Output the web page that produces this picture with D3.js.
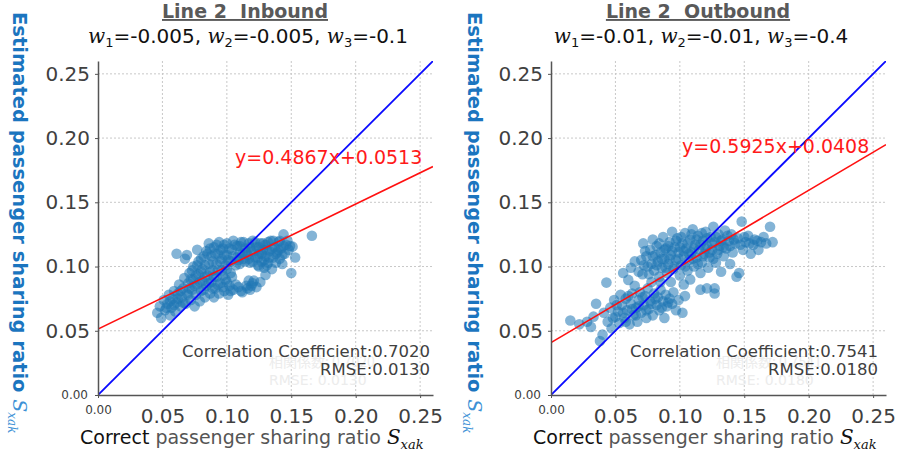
<!DOCTYPE html>
<html>
<head>
<meta charset="utf-8">
<script src="https://cdn.jsdelivr.net/npm/d3@7"></script>
<style>
  body { margin: 0; background: #fff; }
  text { font-family: "DejaVu Sans", Verdana, sans-serif; white-space: pre; }
</style>
</head>
<body>
<div id="chart"></div>
<script>
// tick values shared by both panels
var tickValues = [0, 0.05, 0.10, 0.15, 0.20, 0.25];

// panel titles / weights / fit results
var titles = ["Line 2  Inbound", "Line 2  Outbound"];
var weightsIn = ["-0.005", "-0.005", "-0.1"];
var weightsOut = ["-0.01", "-0.01", "-0.4"];
var fitIn = { slope: 0.4867, intercept: 0.0513, corr: "0.7020", rmse: "0.0130" };
var fitOut = { slope: 0.5925, intercept: 0.0408, corr: "0.7541", rmse: "0.0180" };

// [correct, estimated] pairs
var inboundPoints = [
  [0.046,0.064],[0.048,0.069],[0.049,0.060],[0.051,0.074],[0.052,0.066],[0.054,0.071],[0.055,0.078],
  [0.056,0.062],[0.057,0.068],[0.058,0.075],[0.059,0.081],[0.060,0.065],[0.061,0.072],[0.062,0.079],
  [0.063,0.086],[0.064,0.069],[0.061,0.110],[0.065,0.076],[0.066,0.083],[0.067,0.091],[0.068,0.071],
  [0.069,0.109],[0.0675,0.106],
  [0.070,0.078],[0.070,0.087],[0.071,0.095],[0.072,0.074],[0.073,0.082],[0.074,0.090],[0.074,0.100],
  [0.075,0.069],[0.076,0.078],[0.077,0.113],[0.077,0.086],[0.078,0.094],[0.078,0.104],[0.079,0.073],
  [0.080,0.081],[0.081,0.089],[0.081,0.098],[0.082,0.108],[0.083,0.076],[0.084,0.085],[0.084,0.112],
  [0.085,0.093],[0.086,0.102],[0.086,0.118],[0.087,0.079],[0.088,0.088],[0.088,0.108],[0.089,0.097],
  [0.090,0.115],[0.090,0.076],
  [0.091,0.083],[0.092,0.092],[0.092,0.102],[0.093,0.110],[0.094,0.119],[0.094,0.079],[0.095,0.087],
  [0.096,0.097],[0.096,0.106],[0.097,0.114],[0.098,0.081],[0.099,0.090],[0.099,0.101],[0.100,0.109],
  [0.100,0.118],[0.101,0.078],[0.102,0.085],[0.103,0.095],[0.103,0.104],[0.104,0.113],[0.105,0.120],
  [0.105,0.082],[0.107,0.101],[0.108,0.107],[0.108,0.116],[0.109,0.084],[0.110,0.102],[0.110,0.111],
  [0.111,0.119],[0.112,0.080],[0.113,0.106],[0.114,0.114],[0.115,0.085],[0.116,0.109],[0.117,0.118],
  [0.118,0.082],[0.118,0.103],[0.119,0.112],[0.120,0.087],[0.120,0.120],[0.122,0.107],[0.123,0.115],
  [0.123,0.084],[0.124,0.101],[0.125,0.110],[0.126,0.118],[0.127,0.104],[0.128,0.113],[0.129,0.099],
  [0.130,0.0935],[0.130,0.108],[0.130,0.117],
  [0.132,0.103],[0.133,0.112],[0.134,0.120],[0.135,0.098],[0.136,0.107],[0.137,0.115],[0.138,0.103],
  [0.139,0.111],[0.140,0.119],[0.141,0.106],[0.142,0.114],[0.143,0.102],[0.144,0.125],[0.145,0.110],
  [0.146,0.117],[0.148,0.113],[0.150,0.095],[0.151,0.1155],[0.153,0.107],[0.166,0.124],
  [0.053,0.068],[0.056,0.073],[0.059,0.070],[0.062,0.075],[0.064,0.081],[0.066,0.072],[0.069,0.079],
  [0.071,0.083],[0.072,0.090],[0.073,0.097],[0.075,0.085],[0.076,0.093],[0.077,0.101],[0.079,0.088],
  [0.080,0.096],[0.080,0.106],[0.082,0.082],[0.083,0.092],[0.083,0.101],[0.085,0.110],[0.086,0.087],
  [0.087,0.096],[0.087,0.114],[0.089,0.083],[0.089,0.104],[0.090,0.092],[0.091,0.110],[0.092,0.117],
  [0.093,0.086],[0.093,0.097],[0.095,0.104],[0.095,0.113],[0.097,0.084],[0.097,0.093],[0.098,0.109],
  [0.098,0.117],[0.100,0.088],[0.100,0.098],[0.101,0.105],[0.102,0.114],[0.103,0.081],[0.104,0.092],
  [0.105,0.108],[0.106,0.117],[0.107,0.086],[0.109,0.105],[0.110,0.116],[0.111,0.081],[0.112,0.110],
  [0.113,0.119],[0.114,0.104],[0.115,0.111],[0.116,0.083],[0.117,0.106],[0.118,0.115],[0.119,0.085],
  [0.120,0.104],[0.121,0.112],[0.122,0.119],[0.124,0.107],[0.125,0.115],[0.127,0.110],[0.128,0.118],
  [0.129,0.105],[0.131,0.113],[0.132,0.119],[0.133,0.107],[0.135,0.114],[0.136,0.120],[0.138,0.110],
  [0.140,0.113],[0.141,0.120],[0.143,0.109],[0.144,0.116],[0.147,0.120],[0.149,0.116],[0.125,0.100],
  [0.131,0.101],[0.121,0.089],[0.117,0.089],[0.126,0.088]
];

var outboundPoints = [
  [0.015,0.058],[0.022,0.055],[0.028,0.057],[0.031,0.053],[0.033,0.061],[0.035,0.071],[0.038,0.042],
  [0.040,0.047],[0.041,0.064],[0.043,0.0875],[0.044,0.057],[0.046,0.068],[0.047,0.052],[0.049,0.074],
  [0.050,0.061],[0.052,0.065],[0.053,0.056],[0.054,0.078],[0.055,0.070],[0.056,0.095],[0.057,0.060],
  [0.058,0.075],[0.059,0.066],[0.060,0.0896],[0.061,0.055],[0.062,0.071],[0.063,0.079],[0.064,0.062],
  [0.065,0.085],[0.066,0.068],[0.067,0.057],[0.068,0.074],[0.069,0.080],[0.070,0.064],[0.071,0.094],
  [0.072,0.070],[0.073,0.077],[0.074,0.060],[0.075,0.083],[0.076,0.067],[0.077,0.073],[0.078,0.088],
  [0.079,0.062],[0.080,0.079],[0.082,0.070],[0.083,0.076],[0.084,0.066],[0.085,0.082],[0.087,0.073],
  [0.088,0.060],[0.089,0.078],[0.090,0.069],[0.092,0.075],[0.094,0.071],[0.095,0.080],[0.097,0.066],
  [0.099,0.074],[0.102,0.064],[0.104,0.077],[0.116,0.082],[0.121,0.083],[0.127,0.083],[0.127,0.079],
  [0.062,0.099],[0.065,0.104],[0.068,0.096],[0.0716,0.118],[0.072,0.101],[0.074,0.108],[0.076,0.094],
  [0.077,0.113],[0.078,0.102],[0.079,0.121],[0.080,0.097],[0.081,0.109],[0.082,0.116],[0.083,0.104],
  [0.084,0.092],[0.085,0.111],[0.086,0.099],[0.087,0.123],[0.088,0.106],[0.089,0.114],[0.090,0.095],
  [0.091,0.102],[0.092,0.119],[0.093,0.109],[0.094,0.127],[0.095,0.098],[0.096,0.115],[0.097,0.105],
  [0.098,0.122],[0.099,0.111],[0.100,0.093],[0.101,0.101],[0.102,0.118],[0.103,0.108],[0.104,0.126],
  [0.105,0.114],[0.106,0.097],[0.107,0.105],[0.108,0.121],[0.109,0.111],[0.110,0.129],[0.111,0.100],
  [0.112,0.117],[0.113,0.107],[0.114,0.124],[0.115,0.113],[0.116,0.095],[0.117,0.103],[0.118,0.120],
  [0.119,0.110],[0.120,0.127],[0.121,0.116],[0.122,0.099],[0.123,0.107],[0.124,0.123],[0.125,0.113],
  [0.126,0.131],[0.127,0.119],[0.128,0.103],[0.129,0.110],[0.130,0.125],[0.131,0.116],[0.132,0.096],
  [0.133,0.121],[0.134,0.108],[0.135,0.128],[0.136,0.114],[0.138,0.120],[0.139,0.102],[0.140,0.125],
  [0.141,0.111],[0.143,0.118],[0.144,0.092],[0.146,0.095],[0.148,0.135],[0.145,0.122],[0.149,0.113],
  [0.151,0.119],[0.153,0.124],[0.155,0.110],[0.157,0.117],[0.158,0.121],[0.161,0.113],[0.163,0.119],
  [0.165,0.123],[0.167,0.118],[0.170,0.131],[0.172,0.119],
  [0.085,0.088],[0.093,0.088],[0.108,0.090],[0.103,0.086],
  [0.070,0.105],[0.073,0.112],[0.075,0.100],[0.079,0.108],[0.082,0.101],[0.084,0.118],[0.086,0.106],
  [0.088,0.113],[0.089,0.099],[0.091,0.116],[0.092,0.106],[0.094,0.112],[0.096,0.100],[0.097,0.120],
  [0.099,0.106],[0.100,0.115],[0.101,0.123],[0.103,0.112],[0.104,0.100],[0.106,0.118],[0.107,0.110],
  [0.109,0.125],[0.110,0.106],[0.111,0.114],[0.113,0.121],[0.114,0.102],[0.116,0.117],[0.117,0.126],
  [0.118,0.108],[0.120,0.114],[0.121,0.122],[0.123,0.111],[0.125,0.118],[0.126,0.106],[0.128,0.123],
  [0.130,0.113],[0.132,0.120],[0.134,0.115],[0.137,0.124],[0.139,0.116],[0.142,0.121],[0.147,0.117],
  [0.150,0.123],[0.154,0.118],[0.160,0.120],
  [0.051,0.070],[0.056,0.064],[0.060,0.077],[0.063,0.067],[0.066,0.062],[0.068,0.069],[0.071,0.076],
  [0.074,0.066],[0.078,0.071],[0.081,0.075],[0.086,0.068],[0.091,0.072],[0.058,0.057],[0.048,0.060]
];

var W = 902, H = 457;
var plotW = 335, plotH = 334, top0 = 61;
var labelBlue = "#1b75bf";

var svg = d3.select("#chart").append("svg")
  .attr("width", W)
  .attr("height", H);

var panels = [
  { left: 98, title: titles[0], weights: weightsIn, points: inboundPoints, fit: fitIn,
    eqX: 137, eqY: 103, ylabX: 13 },
  { left: 551, title: titles[1], weights: weightsOut, points: outboundPoints, fit: fitOut,
    eqX: 131, eqY: 92, ylabX: 468 }
];

panels.forEach(function (p, i) {
  var g = svg.append("g").attr("transform", "translate(" + p.left + "," + top0 + ")");

  var x = d3.scaleLinear().domain([0, 0.26]).range([0, plotW]);
  var y = d3.scaleLinear().domain([0, 0.26]).range([plotH, 0]);

  // grid
  g.append("g").selectAll("line.vg")
    .data(tickValues.slice(1)).enter().append("line")
    .attr("x1", d => x(d)).attr("x2", d => x(d))
    .attr("y1", 0).attr("y2", plotH)
    .style("stroke", "#c8c8c8").style("stroke-dasharray", "2,2");
  g.append("g").selectAll("line.hg")
    .data(tickValues.slice(1)).enter().append("line")
    .attr("x1", 0).attr("x2", plotW)
    .attr("y1", d => y(d)).attr("y2", d => y(d))
    .style("stroke", "#c8c8c8").style("stroke-dasharray", "2,2");

  // faint leftover labels behind the stats
  var ghost = g.append("g").style("fill", "#ececec").style("font-size", "14px");
  ghost.append("text").attr("x", p.eqX + 34).attr("y", 306)
    .style("font-family", "'Noto Sans CJK JP', sans-serif")
    .text("相関係数: " + p.fit.corr);
  ghost.append("text").attr("x", p.eqX + 34).attr("y", 324)
    .text("RMSE: " + p.fit.rmse);

  // points
  g.append("g").selectAll("circle")
    .data(p.points).enter().append("circle")
    .attr("cx", d => x(d[0]))
    .attr("cy", d => y(d[1]))
    .attr("r", 5.3)
    .style("fill", "#1f77b4")
    .style("fill-opacity", 0.55);

  // lines, clipped to plot
  var clipId = "clip" + i;
  g.append("clipPath").attr("id", clipId).append("rect")
    .attr("width", plotW).attr("height", plotH);
  var lines = g.append("g").attr("clip-path", "url(#" + clipId + ")");
  lines.append("line")
    .attr("x1", x(0)).attr("y1", y(p.fit.intercept))
    .attr("x2", x(0.26)).attr("y2", y(p.fit.slope * 0.26 + p.fit.intercept))
    .style("stroke", "#ff1010").style("stroke-width", 1.6);
  lines.append("line")
    .attr("x1", x(0)).attr("y1", y(0))
    .attr("x2", x(0.26)).attr("y2", y(0.26))
    .style("stroke", "#0a0aff").style("stroke-width", 1.8);

  // axes
  var xAxis = g.append("g")
    .attr("transform", "translate(0," + plotH + ")")
    .call(d3.axisBottom(x).tickValues(tickValues).tickSize(3).tickSizeOuter(0)
      .tickFormat(d3.format(".2f")));
  xAxis.selectAll("text")
    .attr("dy", 0)
    .attr("y", d => d === 0 ? 19 : 28)
    .style("font-size", d => d === 0 ? "12px" : "20px")
    .style("fill", "#404040");

  var yAxis = g.append("g")
    .call(d3.axisLeft(y).tickValues(tickValues).tickSize(3).tickSizeOuter(0).tickPadding(5)
      .tickFormat(d3.format(".2f")));
  yAxis.selectAll("text")
    .attr("x", d => d === 0 ? -10 : -8)
    .style("font-size", d => d === 0 ? "12px" : "20px")
    .style("fill", "#404040");

  [xAxis, yAxis].forEach(function (a) {
    a.select(".domain").style("stroke", "#555").style("stroke-width", 1.5);
    a.selectAll(".tick line").style("stroke", "#555");
  });

  // regression equation
  g.append("text")
    .attr("x", p.eqX).attr("y", p.eqY)
    .style("fill", "#ff1a1a").style("font-size", "19px")
    .text("y=" + p.fit.slope + "x+" + p.fit.intercept.toFixed(4));

  // stats
  var stats = g.append("g").style("fill", "#404040").style("font-size", "16.5px")
    .attr("text-anchor", "end");
  stats.append("text").attr("x", plotW - 3 - i * 5).attr("y", 296)
    .text("Correlation Coefficient:" + p.fit.corr);
  stats.append("text").attr("x", plotW - 3 - i * 5).attr("y", 314)
    .text("RMSE:" + p.fit.rmse);

  // title
  svg.append("text")
    .attr("x", p.left + 147).attr("y", 18)
    .attr("text-anchor", "middle")
    .attr("text-decoration", "underline")
    .style("font-weight", "bold").style("font-size", "19px").style("fill", "#595959")
    .text(p.title);

  var sub = svg.append("text")
    .attr("x", p.left + 150).attr("y", 43)
    .attr("text-anchor", "middle")
    .style("font-size", "20px").style("fill", "#111");
  p.weights.forEach(function (w, k) {
    sub.append("tspan")
      .style("font-family", "'DejaVu Serif', serif").style("font-style", "italic")
      .text("w");
    sub.append("tspan").attr("dy", 4).style("font-size", "13px").text(k + 1);
    sub.append("tspan").attr("dy", -4)
      .text("=" + w + (k < p.weights.length - 1 ? ", " : ""));
  });

  // x label
  var xl = svg.append("text")
    .attr("x", p.left - 18).attr("y", 444)
    .style("font-size", "19px");
  xl.append("tspan").style("fill", "#111").text("Correct");
  xl.append("tspan").style("fill", "#555").text(" passenger sharing ratio ");
  xl.append("tspan").style("fill", "#111")
    .style("font-family", "'DejaVu Serif', serif").style("font-style", "italic")
    .style("font-size", "20px").text("S");
  xl.append("tspan").attr("dy", 5).style("fill", "#111")
    .style("font-family", "'DejaVu Serif', serif").style("font-style", "italic")
    .style("font-size", "13px").text("xak");

  // y label (reads top to bottom)
  var yl = svg.append("text")
    .attr("transform", "translate(" + p.ylabX + ",12) rotate(90)")
    .style("font-size", "19.5px");
  yl.append("tspan").style("fill", labelBlue).style("font-weight", "bold")
    .text("Estimated passenger sharing ratio ");
  yl.append("tspan").style("fill", "#3d91d6")
    .style("font-family", "'DejaVu Serif', serif").style("font-style", "italic")
    .style("font-size", "19px").text("S");
  yl.append("tspan").attr("dy", 5).style("fill", "#3d91d6")
    .style("font-family", "'DejaVu Serif', serif").style("font-style", "italic")
    .style("font-size", "12px").text("xak");
});
</script>
</body>
</html>
